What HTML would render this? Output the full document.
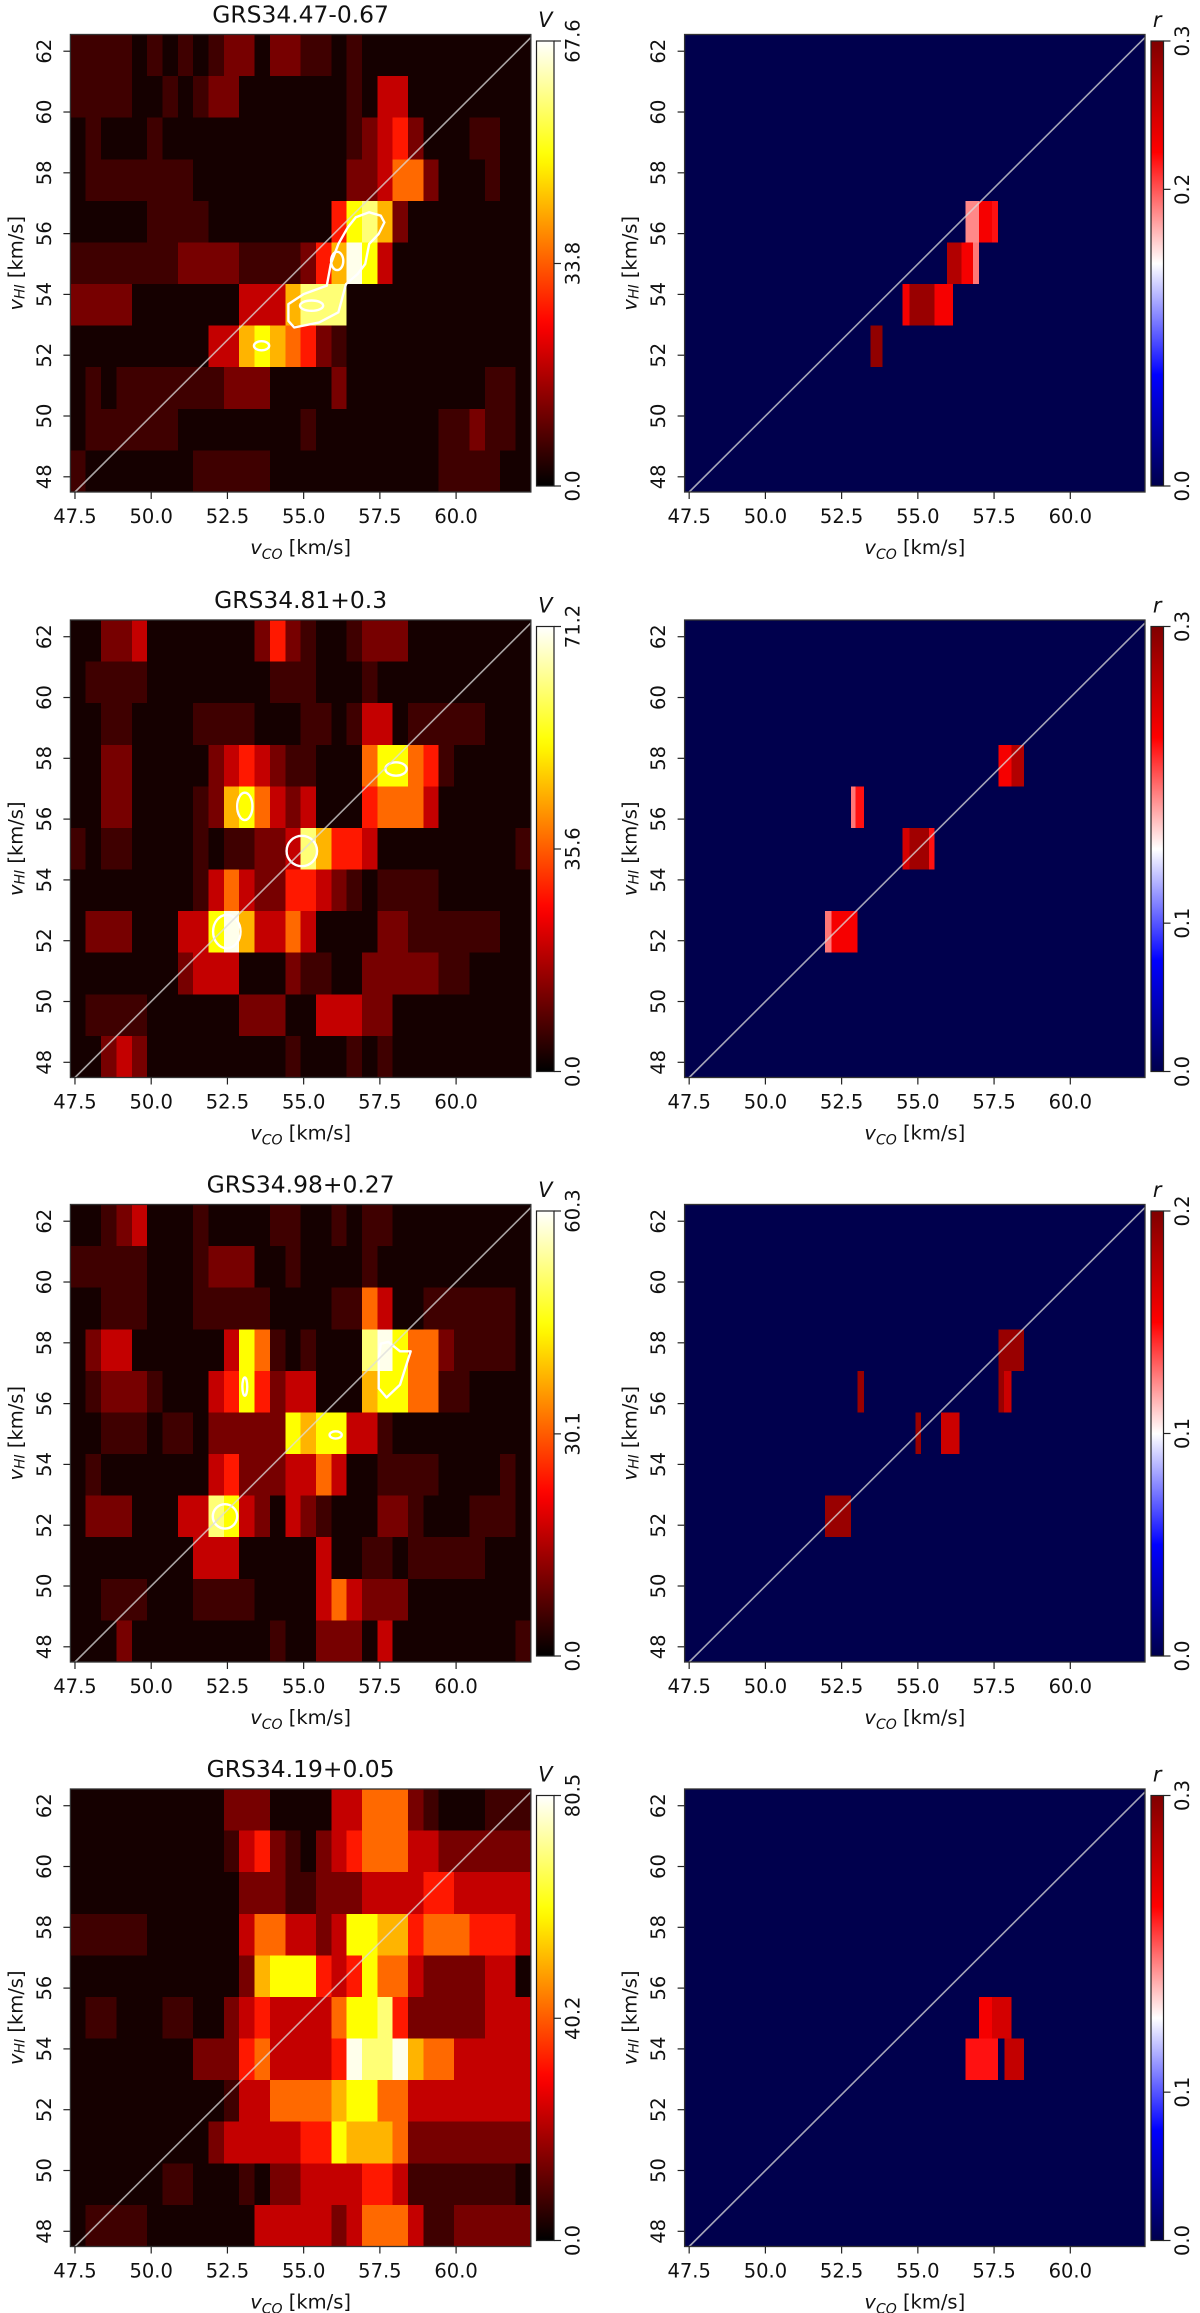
<!DOCTYPE html>
<html><head><meta charset="utf-8"><title>CO vs HI velocity correlation maps</title>
<style>
html,body{margin:0;padding:0;background:#fff;}
svg{display:block;font-family:"DejaVu Sans","Liberation Sans",sans-serif;}
</style></head>
<body>
<svg id="fig" xmlns="http://www.w3.org/2000/svg" width="1200" height="2313" viewBox="0 0 1200 2313">
<defs id="defs"></defs>
</svg>
<script>
// ---------- data ----------
const titles = ["GRS34.47-0.67","GRS34.81+0.3","GRS34.98+0.27","GRS34.19+0.05"];
const vMax = [67.6, 71.2, 60.3, 80.5];
const vMid = [33.8, 35.6, 30.1, 40.2];
const rMax = [0.3, 0.3, 0.2, 0.3];
const rMid = [0.2, 0.1, 0.1, 0.1];
const xTicks = [47.5, 50.0, 52.5, 55.0, 57.5, 60.0];
const yTicks = [48, 50, 52, 54, 56, 58, 60, 62];
// intensity level (fraction of colour scale) for each digit 0-9
const levelT = [0.03, 0.09, 0.17, 0.28, 0.40, 0.52, 0.63, 0.74, 0.86, 0.98];
// intensity maps: 11 HI rows (top to bottom) x 30 CO columns
const heat0 = [
"111101010122022110100000000000",
"111100101220000000103300000000",
"010001000000000000123420001100",
"011111110000000000223552000100",
"000001111000000004786200000000",
"111111122221111246973000000000",
"222200000003336888000000000000",
"000000000336765421000000000000",
"010111111122200002000000000110",
"011111100000000100000000112110",
"100000001111100000000000111100"];
const heat1 = [
"002230000000242100122200000000",
"011110000000011100010000000000",
"001100001111000110133011111000",
"002200000234321100057754100000",
"002200001267532300045553000000",
"101100001011223864430000000001",
"000000001353224432101111000000",
"022200033796335300002211111100",
"000000023330002110022222110000",
"011110000002220033322000000000",
"002320000000001000101000000000"];
const heat2 = [
"001230001000011001011000000000",
"111110001222001000010000000000",
"001110001111100001153001111110",
"023300000037510100089755211110",
"012221000347423300067755110000",
"001110110222227677331000000000",
"010000000342223353001111000010",
"022200033873203210002210001110",
"000000003330000030011011111000",
"001110001111000035322200000000",
"000200000000010022203000000001"];
const heat3 = [
"000000000022200003355521000111",
"000000000013421023455533222222",
"000000000002221122233334433333",
"111110000003553323776645554443",
"000000000002677743475532222330",
"011000110023433335778422222333",
"000000002224533334988965533333",
"000000000013355556775533333333",
"000000000233333447666522222222",
"000000110001022333344311111110",
"011110000000333332355531122222"];
const heats = [heat0, heat1, heat2, heat3];
// correlation cells: [rowIndex, xStart, xEnd, r]
const corr0 = [[7,53.44,53.84,0.29],[6,54.50,54.73,0.23],[6,54.73,55.55,0.285],[6,55.55,56.15,0.23],
 [5,55.96,56.43,0.27],[5,56.43,56.81,0.23],[5,56.81,57.00,0.19],[4,56.57,57.00,0.185],[4,57.00,57.44,0.23],[4,57.44,57.63,0.22]];
const corr1 = [[3,57.65,58.07,0.23],[3,58.07,58.48,0.27],[4,52.81,52.96,0.19],[4,52.96,53.24,0.22],
 [5,54.50,54.73,0.25],[5,54.73,55.36,0.28],[5,55.36,55.55,0.22],[7,51.95,52.17,0.19],[7,52.17,53.02,0.23]];
const corr2 = [[3,57.65,58.48,0.19],[4,53.02,53.24,0.19],[4,57.65,57.82,0.19],[4,57.82,58.07,0.17],
 [5,54.92,55.10,0.19],[5,55.76,56.37,0.17],[7,51.95,52.81,0.19]];
const corr3 = [[5,57.00,57.44,0.23],[5,57.44,58.07,0.25],[6,56.57,57.63,0.22],[6,57.84,58.48,0.26]];
const corrs = [corr0, corr1, corr2, corr3];
// contour outlines (data coords)
const contourPoly0 = [[54.50,53.68],[55.0,54.01],[55.76,54.29],[55.89,55.0],[56.14,55.66],[56.45,56.21],[56.71,56.54],[57.15,56.70],[57.53,56.59],[57.65,56.37],[57.46,55.99],[57.15,55.66],[57.02,55.0],[56.77,54.67],[56.39,54.34],[56.14,53.41],[55.51,53.08],[54.69,52.91],[54.50,53.13]];
const contourPoly2 = [[57.53,57.97],[57.78,58.03],[58.16,57.72],[58.51,57.72],[58.16,56.62],[57.72,56.2],[57.46,56.5],[57.46,57.48]];
// ellipses [cx, cy, rx, ry]
const contourEll0 = [[55.26,53.63,0.38,0.17],[56.1,55.1,0.2,0.3],[53.62,52.31,0.25,0.15]];
const contourEll1 = [[52.48,52.3,0.45,0.55],[54.94,54.95,0.5,0.5],[53.07,56.42,0.25,0.45],[58.03,57.65,0.35,0.22]];
const contourEll2 = [[52.42,52.29,0.4,0.4],[56.05,54.97,0.2,0.12],[53.07,56.56,0.08,0.3]];
const contourEll3 = [];
const contourPolys = [[contourPoly0], [], [contourPoly2], []];
const contourElls = [contourEll0, contourEll1, contourEll2, contourEll3];

// ---------- layout ----------
const XMIN = 47.35, XMAX = 62.45, YMIN = 47.5, YMAX = 62.55;
const NROWS = 11, NCOLS = 30;
const rowTops = [34.5, 620, 1204.5, 1789];
const PH = 457.5;
const panelLefts = [70.4, 684.6];
const PW = 460.4;
const NS = "http://www.w3.org/2000/svg";
const svg = document.getElementById('fig');
const defs = document.getElementById('defs');

function mk(tag, attrs, parent){
  const e = document.createElementNS(NS, tag);
  for (const k in attrs) e.setAttribute(k, attrs[k]);
  (parent||svg).appendChild(e);
  return e;
}
function clamp(v){return Math.max(0, Math.min(1, v));}
function hot(t){
  const r = clamp(t/0.365), g = clamp((t-0.365)/0.375), b = clamp((t-0.74)/0.26);
  return `rgb(${Math.round(r*255)},${Math.round(g*255)},${Math.round(b*255)})`;
}
function seismic(t){
  t = clamp(t); let r,g,b;
  if (t < 0.25){ r=0; g=0; b=0.3+2.8*t; }
  else if (t < 0.5){ r=g=(t-0.25)/0.25; b=1; }
  else if (t < 0.75){ r=1; g=b=1-(t-0.5)/0.25; }
  else { r=1-(t-0.75)*2; g=b=0; }
  return `rgb(${Math.round(r*255)},${Math.round(g*255)},${Math.round(b*255)})`;
}
function digitT(d){ return levelT[d]; }

function axes(left, top){
  return {
    X: v => left + (v - XMIN)/(XMAX - XMIN)*PW,
    Y: v => top + (YMAX - v)/(YMAX - YMIN)*PH
  };
}

function drawFrame(p, left, top){
  const g = p;
  const {X, Y} = axes(left, top);
  const d = mk('line', {x1:X(47.5), y1:Y(47.5), x2:X(62.45), y2:Y(62.45), stroke:'rgba(220,220,220,0.75)', 'stroke-width':1.6}, g);
  
  
  const fr = mk('rect', {x:left, y:top, width:PW, height:PH, fill:'none', stroke:'#333', 'stroke-width':1.3}, g);
  
  
  const xt = mk('g', {}, g);
  
  
  xTicks.forEach(v => {
    mk('line', {x1:X(v), y1:top+PH, x2:X(v), y2:top+PH+7, stroke:'#222', 'stroke-width':1.2}, xt);
    const t = mk('text', {x:X(v), y:top+PH+31, 'text-anchor':'middle', 'font-size':19.5, fill:'#111'}, xt);
    t.textContent = v.toFixed(1);
  });
  const yt = mk('g', {}, g);
  
  
  yTicks.forEach(v => {
    mk('line', {x1:left, y1:Y(v), x2:left-7, y2:Y(v), stroke:'#222', 'stroke-width':1.2}, yt);
    const tx = left - 26;
    const t = mk('text', {x:tx, y:Y(v), 'text-anchor':'middle', 'dominant-baseline':'central', 'font-size':19.5, fill:'#111', transform:`rotate(-90 ${tx} ${Y(v)})`}, yt);
    t.textContent = String(v);
  });
  const xl = mk('text', {x:left+PW/2, y:top+PH+62, 'text-anchor':'middle', 'font-size':19.5, fill:'#111'}, g);
  
  
  xl.innerHTML = '<tspan font-style="italic">v</tspan><tspan font-style="italic" font-size="14" dy="5">CO</tspan><tspan dy="-5"> [km/s]</tspan>';
  const yx = left - 55, yy = top + PH/2;
  const yl = mk('text', {x:yx, y:yy, 'text-anchor':'middle', 'dominant-baseline':'central', 'font-size':19.5, fill:'#111', transform:`rotate(-90 ${yx} ${yy})`}, g);
  
  
  yl.innerHTML = '<tspan font-style="italic">v</tspan><tspan font-style="italic" font-size="14" dy="5">HI</tspan><tspan dy="-5"> [km/s]</tspan>';
}

function drawColorbar(p, x, w, top, bot, cmap, maxV, midV, label, id){
  const gid = 'grad-' + id;
  const lg = mk('linearGradient', {id:gid, x1:0, y1:1, x2:0, y2:0}, defs);
  for (let i=0;i<=40;i++){
    mk('stop', {offset:(i/40), 'stop-color':cmap(i/40)}, lg);
  }
  const cb = mk('g', {}, p);
  
  
  mk('rect', {x:x, y:top, width:w, height:bot-top, fill:`url(#${gid})`, stroke:'#222', 'stroke-width':1.2}, cb);
  [0, midV, maxV].forEach(v => {
    const yy = bot - (v/maxV)*(bot-top);
    mk('line', {x1:x+w, y1:yy, x2:x+w+7, y2:yy, stroke:'#222', 'stroke-width':1.2}, cb);
    const tx = x + w + 19;
    const t = mk('text', {x:tx, y:yy, 'text-anchor':'middle', 'dominant-baseline':'central', 'font-size':19.5, fill:'#111', transform:`rotate(-90 ${tx} ${yy})`}, cb);
    t.textContent = v.toFixed(1);
  });
  const lb = mk('text', {x:x+w/2, y:top-14, 'text-anchor':'middle', 'font-size':21, 'font-style':'italic', fill:'#111'}, cb);
  
  
  lb.textContent = label;
}

const rowH = (YMAX - YMIN)/NROWS, colW = (XMAX - XMIN)/NCOLS;

for (let k=0;k<4;k++){
  const top = rowTops[k];
  const L = panelLefts[0];
  const {X, Y} = axes(L, top);
  const pl = mk('g', {});
  
  
  const hm = mk('g', {'shape-rendering':'crispEdges'}, pl);
  
  
  heats[k].forEach((row, r) => {
    for (let c=0;c<NCOLS;c++){
      const d = +row[c];
      const x0 = XMIN + c*colW, x1 = x0 + colW;
      const y1 = YMAX - r*rowH, y0 = y1 - rowH;
      const cell = mk('rect', {x:X(x0), y:Y(y1), width:X(x1)-X(x0)+0.5, height:Y(y0)-Y(y1)+0.5, fill:hot(digitT(d))}, hm);
      
      
    }
  });
  const cg = mk('g', {fill:'none', stroke:'#fff', 'stroke-width':2.4, 'stroke-linejoin':'round'}, pl);
  
  
  contourPolys[k].forEach(poly => {
    const pts = poly.map(p => X(p[0]).toFixed(1)+','+Y(p[1]).toFixed(1)).join(' ');
    const pg = mk('polygon', {points:pts}, cg);
    
    
  });
  contourElls[k].forEach(e => {
    const el = mk('ellipse', {cx:X(e[0]), cy:Y(e[1]), rx:X(e[0]+e[2])-X(e[0]), ry:Y(e[1])-Y(e[1]+e[3])}, cg);
    
    
  });
  drawFrame(pl, L, top);
  const ti = mk('text', {x:L+PW/2, y:top-12, 'text-anchor':'middle', 'font-size':23.4, fill:'#111'}, pl);
  
  
  ti.textContent = titles[k];
  drawColorbar(pl, 536.5, 17.5, top+6.5, top+PH-6, hot, vMax[k], vMid[k], 'V', 'v'+k);

  const R = panelLefts[1];
  const ax2 = axes(R, top);
  const pr = mk('g', {});
  
  
  const bg = mk('rect', {x:R, y:top, width:PW, height:PH, fill:seismic(0)}, pr);
  
  
  const cm = mk('g', {'shape-rendering':'crispEdges'}, pr);
  
  
  corrs[k].forEach(cc => {
    const y1 = YMAX - cc[0]*rowH, y0 = y1 - rowH;
    const cell = mk('rect', {x:ax2.X(cc[1]), y:ax2.Y(y1), width:ax2.X(cc[2])-ax2.X(cc[1]), height:ax2.Y(y0)-ax2.Y(y1), fill:seismic(cc[3]/rMax[k])}, cm);
    
    
  });
  drawFrame(pr, R, top);
  drawColorbar(pr, 1151, 12.5, top+6.5, top+PH-6, seismic, rMax[k], rMid[k], 'r', 'r'+k);
}
</script>
</body></html>
